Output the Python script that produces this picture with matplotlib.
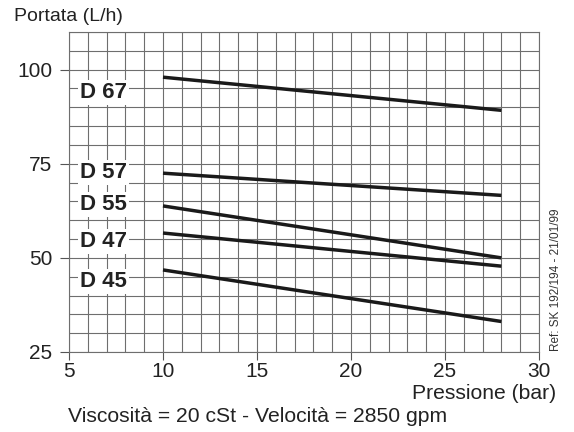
import numpy as np
import matplotlib.pyplot as plt
from matplotlib.ticker import MultipleLocator

plt.rcParams['font.family'] = ['Liberation Sans', 'DejaVu Sans']

# Courbes portata / pressione
labels = ['D 67', 'D 57', 'D 55', 'D 47', 'D 45']
p_start = [10, 10, 10, 10, 10]
p_end = [28, 28, 28, 28, 28]
q_start = [98.0, 72.5, 63.8, 56.6, 46.8]
q_end = [89.2, 66.6, 50.0, 47.8, 33.1]
label_y = [94.0, 72.6, 64.2, 54.4, 43.8]

x_ticks = [5, 10, 15, 20, 25, 30]
y_ticks = [25, 50, 75, 100]

fig = plt.figure(figsize=(5.74, 4.32), dpi=100)
ax = fig.add_axes([0.1202, 0.1852, 0.8188, 0.7407])

ax.set_xlim(5, 30)
ax.set_ylim(25, 110)
ax.set_xticks(x_ticks)
ax.set_yticks(y_ticks)
ax.xaxis.set_minor_locator(MultipleLocator(1))
ax.yaxis.set_minor_locator(MultipleLocator(5))
ax.grid(visible=True, which='both', color='#6e6e6e', linewidth=0.8)
ax.set_axisbelow(True)
for s in ax.spines.values():
    s.set_color('#6e6e6e')
    s.set_linewidth(0.8)
ax.tick_params(which='major', direction='out', width=0.8, color='#555555',
               labelsize=15, labelcolor='#222222')
ax.tick_params(axis='y', length=6.5, pad=5.5)
ax.tick_params(axis='x', length=6, pad=1.5)
ax.tick_params(which='minor', length=0)

for i in range(len(labels)):
    ax.plot([p_start[i], p_end[i]], [q_start[i], q_end[i]], color='#1a1a1a',
            linewidth=2.5, solid_capstyle='butt')
    ax.text(5.6, label_y[i], labels[i], fontsize=16, fontweight='bold', color='#222222',
            va='center', ha='left',
            bbox=dict(facecolor='white', edgecolor='none', pad=1.5))

fig.text(0.024, 0.962, 'Portata (L/h)', fontsize=14, color='#222222', va='center', ha='left')
fig.text(0.969, 0.088, 'Pressione (bar)', fontsize=15.2, color='#222222', va='center', ha='right')
fig.text(0.118, 0.035, 'Viscosità = 20 cSt - Velocità = 2850 gpm', fontsize=15.2,
         color='#222222', va='center', ha='left')
fig.text(0.969, 0.352, 'Ref: SK 192/194 - 21/01/99', fontsize=8.5, rotation=90,
         color='#333333', va='center', ha='center')

plt.savefig('out.png', dpi=100)
